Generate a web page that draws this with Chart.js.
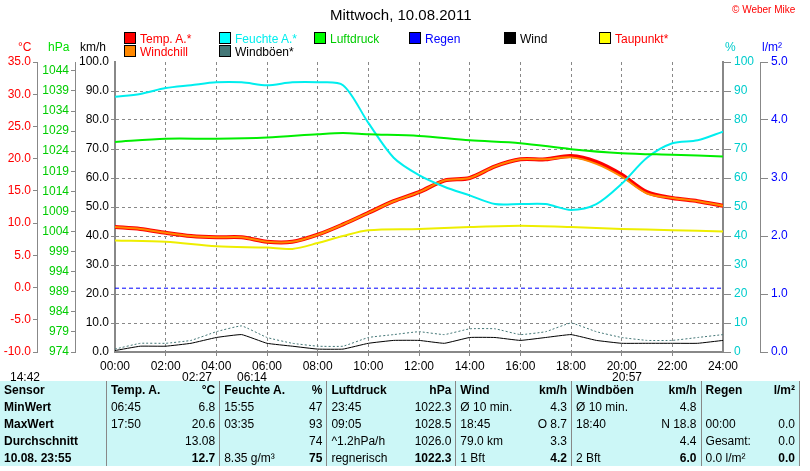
<!DOCTYPE html>
<html><head><meta charset="utf-8">
<script src="https://cdn.jsdelivr.net/npm/chart.js@4"></script>
<style>
body{margin:0;width:810px;height:471px;overflow:hidden;background:#fff;font-family:"Liberation Sans",Arial,sans-serif;position:relative}
#wrap{position:absolute;left:0;top:0;width:810px;height:372px}
.t{position:absolute;font-size:12px;white-space:nowrap}
.lg{position:absolute;font-size:12px;white-space:nowrap}
.lg i{display:inline-block;width:10px;height:10px;border:1px solid #000;margin-right:4px;vertical-align:-1px}
table{position:absolute;left:0;top:381px;width:800px;border-collapse:collapse;background:#ccf7f7;font-size:12px;font-family:"Liberation Sans Narrow","Liberation Sans",sans-serif}
td{padding:0 4px;height:17px;white-space:nowrap}
td.r{text-align:right}
td.b{border-right:1px solid #888}
.h td{font-weight:bold}
</style></head><body>
<div id="wrap"><canvas id="c" width="810" height="372"></canvas></div>
<div class="t" style="left:330px;top:6px;font-size:15px">Mittwoch, 10.08.2011</div>
<div class="t" style="left:732px;top:4px;font-size:10px;color:#f00">© Weber Mike</div>
<div class="t" style="left:18px;top:40px;color:#f00">°C</div>
<div class="t" style="left:48px;top:40px;color:#0d0">hPa</div>
<div class="t" style="left:80px;top:40px">km/h</div>
<div class="t" style="left:725px;top:40px;color:#0cc">%</div>
<div class="t" style="left:762px;top:40px;color:#00f">l/m²</div>
<div class="lg" style="left:124px;top:32px;color:#f00"><i style="background:#f00"></i>Temp. A.*</div>
<div class="lg" style="left:124px;top:45px;color:#f00"><i style="background:#f80"></i>Windchill</div>
<div class="lg" style="left:219px;top:32px;color:#0ee"><i style="background:#0ff"></i>Feuchte A.*</div>
<div class="lg" style="left:219px;top:45px"><i style="background:#477"></i>Windböen*</div>
<div class="lg" style="left:314px;top:32px;color:#0c0"><i style="background:#0f0"></i>Luftdruck</div>
<div class="lg" style="left:409px;top:32px;color:#00f"><i style="background:#00f"></i>Regen</div>
<div class="lg" style="left:504px;top:32px"><i style="background:#000"></i>Wind</div>
<div class="lg" style="left:599px;top:32px;color:#f00"><i style="background:#ff0"></i>Taupunkt*</div>
<div class="t" style="left:10px;top:370px">14:42</div>
<div class="t" style="left:182px;top:370px">02:27</div>
<div class="t" style="left:237px;top:370px">06:14</div>
<div class="t" style="left:612px;top:370px">20:57</div>
<table>
<tr class="h"><td>Sensor</td><td class="b"></td><td>Temp. A.</td><td class="r b">°C</td><td>Feuchte A.</td><td class="r b">%</td><td>Luftdruck</td><td class="r b">hPa</td><td>Wind</td><td class="r b">km/h</td><td>Windböen</td><td class="r b">km/h</td><td>Regen</td><td class="r b">l/m²</td></tr>
<tr><td><b>MinWert</b></td><td class="b"></td><td>06:45</td><td class="r b">6.8</td><td>15:55</td><td class="r b">47</td><td>23:45</td><td class="r b">1022.3</td><td>Ø 10 min.</td><td class="r b">4.3</td><td>Ø 10 min.</td><td class="r b">4.8</td><td></td><td class="r b"></td></tr>
<tr><td><b>MaxWert</b></td><td class="b"></td><td>17:50</td><td class="r b">20.6</td><td>03:35</td><td class="r b">93</td><td>09:05</td><td class="r b">1028.5</td><td>18:45</td><td class="r b">O 8.7</td><td>18:40</td><td class="r b">N 18.8</td><td>00:00</td><td class="r b">0.0</td></tr>
<tr><td><b>Durchschnitt</b></td><td class="b"></td><td></td><td class="r b">13.08</td><td></td><td class="r b">74</td><td>^1.2hPa/h</td><td class="r b">1026.0</td><td>79.0 km</td><td class="r b">3.3</td><td></td><td class="r b">4.4</td><td>Gesamt:</td><td class="r b">0.0</td></tr>
<tr><td><b>10.08. 23:55</b></td><td class="b"></td><td></td><td class="r b"><b>12.7</b></td><td>8.35 g/m³</td><td class="r b"><b>75</b></td><td>regnerisch</td><td class="r b"><b>1022.3</b></td><td>1 Bft</td><td class="r b"><b>4.2</b></td><td>2 Bft</td><td class="r b"><b>6.0</b></td><td>0.0 l/m²</td><td class="r b"><b>0.0</b></td></tr>
</table>
<script>
const hours = [0,1,2,3,4,5,6,7,8,9,10,11,12,13,14,15,16,17,18,19,20,21,22,23,24];
const tempC = [9.4,9.1,8.5,8.0,7.8,7.8,7.1,7.1,8.2,9.8,11.6,13.4,14.8,16.6,17.0,18.8,19.9,19.9,20.4,19.5,17.5,14.8,13.9,13.4,12.7];
const windchillC = [9.4,9.1,8.5,8.0,7.8,7.8,7.1,7.1,8.2,9.8,11.6,13.4,14.8,16.6,17.0,18.8,19.9,19.9,20.2,19.2,17.2,14.6,13.9,13.4,12.7];
const humidity = [88,89,91,92,93,93,92,93,93,92,79,67,61,57,54,51,51,51,49,51,58,67,72,73,76];
const pressureHours = [0,2,4,6,8,9,10,12,14,16,18,20,22,24];
const pressure = [1026.3,1027.1,1027.1,1027.4,1028.2,1028.5,1028.2,1027.8,1026.7,1026.0,1024.5,1023.5,1023.1,1022.7];
const dewHours = [0,2,4,6,7,8,9,10,12,14,16,18,20,22,24];
const dewC = [7.3,7.1,6.4,6.2,6.0,6.9,8.0,8.9,9.1,9.4,9.6,9.4,9.1,8.9,8.7];
const wind = [0.5,2,2,3,5,6,3,2,1,1,3,4,4,3,5,5,4,5,6,4,3,3,3,3,4];
const gusts = [1,3,3,4,7,9,5,3,2,2,5,6,7,6,8,8,6,7,10,7,5,4,4,5,6];
const rainLevel = 1.1;

const pts = (xs, ys) => xs.map((x, i) => ({x, y: ys[i]}));
const fit = w => ({afterFit: s => { s.width = w; }});

const rainLine = {
  id: 'rain',
  beforeDatasetsDraw(chart) {
    const {ctx, chartArea: a, scales} = chart;
    const y = scales.yRain.getPixelForValue(rainLevel);
    ctx.save(); ctx.strokeStyle = '#00f'; ctx.setLineDash([4, 3]); ctx.lineWidth = 1;
    ctx.beginPath(); ctx.moveTo(a.left, y); ctx.lineTo(a.right, y); ctx.stroke(); ctx.restore();
  }
};

const tickFont = {family: 'Liberation Sans', size: 12};
new Chart(document.getElementById('c'), {
  type: 'line',
  data: {datasets: [
    {data: pts(hours, gusts), borderColor: '#477', borderWidth: 1, borderDash: [2, 2], tension: 0.1, yAxisID: 'yKmh'},
    {data: pts(hours, wind), borderColor: '#000', borderWidth: 1, tension: 0.1, yAxisID: 'yKmh'},
    {data: pts(pressureHours, pressure), borderColor: '#0e0', borderWidth: 2, yAxisID: 'yHpa'},
    {data: pts(dewHours, dewC), borderColor: '#ee0', borderWidth: 2, yAxisID: 'yC'},
    {data: pts(hours, humidity), borderColor: '#0ee', borderWidth: 2, yAxisID: 'yPct'},
    {data: pts(hours, windchillC), borderColor: '#f80', borderWidth: 2, yAxisID: 'yC'},
    {data: pts(hours, tempC), borderColor: '#f00', borderWidth: 4, yAxisID: 'yC'}
  ]},
  options: {
    responsive: false, animation: false,
    layout: {padding: {top: 62, right: 10, left: 0}},
    elements: {point: {radius: 0}, line: {tension: 0.3}},
    plugins: {legend: {display: false}, tooltip: {enabled: false}},
    scales: {
      x: {type: 'linear', min: 0, max: 24, afterFit: s => { s.height = 20; },
        ticks: {stepSize: 2, color: '#000', font: tickFont, callback: v => String(v).padStart(2, '0') + ':00'},
        grid: {color: c => (c.tick.value > 0 && c.tick.value < 24) ? '#888' : 'rgba(0,0,0,0)', tickLength: 4},
        border: {color: '#888', width: 2, dash: [3, 3]}},
      yKmh: {position: 'left', min: 0, max: 100, ...fit(40),
        ticks: {stepSize: 5, color: '#000', font: tickFont, padding: 2, callback: v => v.toFixed(1)},
        grid: {color: c => c.tick.value % 10 === 0 && c.tick.value > 0 && c.tick.value < 100 ? '#888' : 'rgba(0,0,0,0)', tickLength: 4},
        border: {color: '#888', width: 2, dash: [3, 3]}},
      yHpa: {position: 'left', min: 974, max: 1046.2, ...fit(38),
        afterBuildTicks: s => { s.ticks = []; for (let v = 974; v <= 1044; v += 5) s.ticks.push({value: v}); },
        ticks: {color: '#0c0', font: tickFont, padding: 2, callback: v => String(v)},
        grid: {drawOnChartArea: false, color: '#888', tickLength: 4}, border: {color: '#888'}},
      yC: {position: 'left', min: -10, max: 35, ...fit(37),
        ticks: {stepSize: 5, color: '#f00', font: tickFont, padding: 2, callback: v => v.toFixed(1)},
        grid: {drawOnChartArea: false, color: '#888', tickLength: 4}, border: {color: '#888'}},
      yPct: {position: 'right', min: 0, max: 100, ...fit(37),
        ticks: {stepSize: 10, color: '#0cc', font: tickFont},
        grid: {drawOnChartArea: false, color: '#888'}, border: {color: '#888', width: 2}},
      yRain: {position: 'right', min: 0, max: 5, ...fit(40),
        ticks: {stepSize: 1, color: '#00f', font: tickFont, callback: v => v.toFixed(1)},
        grid: {drawOnChartArea: false, color: '#888'}, border: {color: '#888'}}
    }
  },
  plugins: [rainLine]
});
</script>
</body></html>
